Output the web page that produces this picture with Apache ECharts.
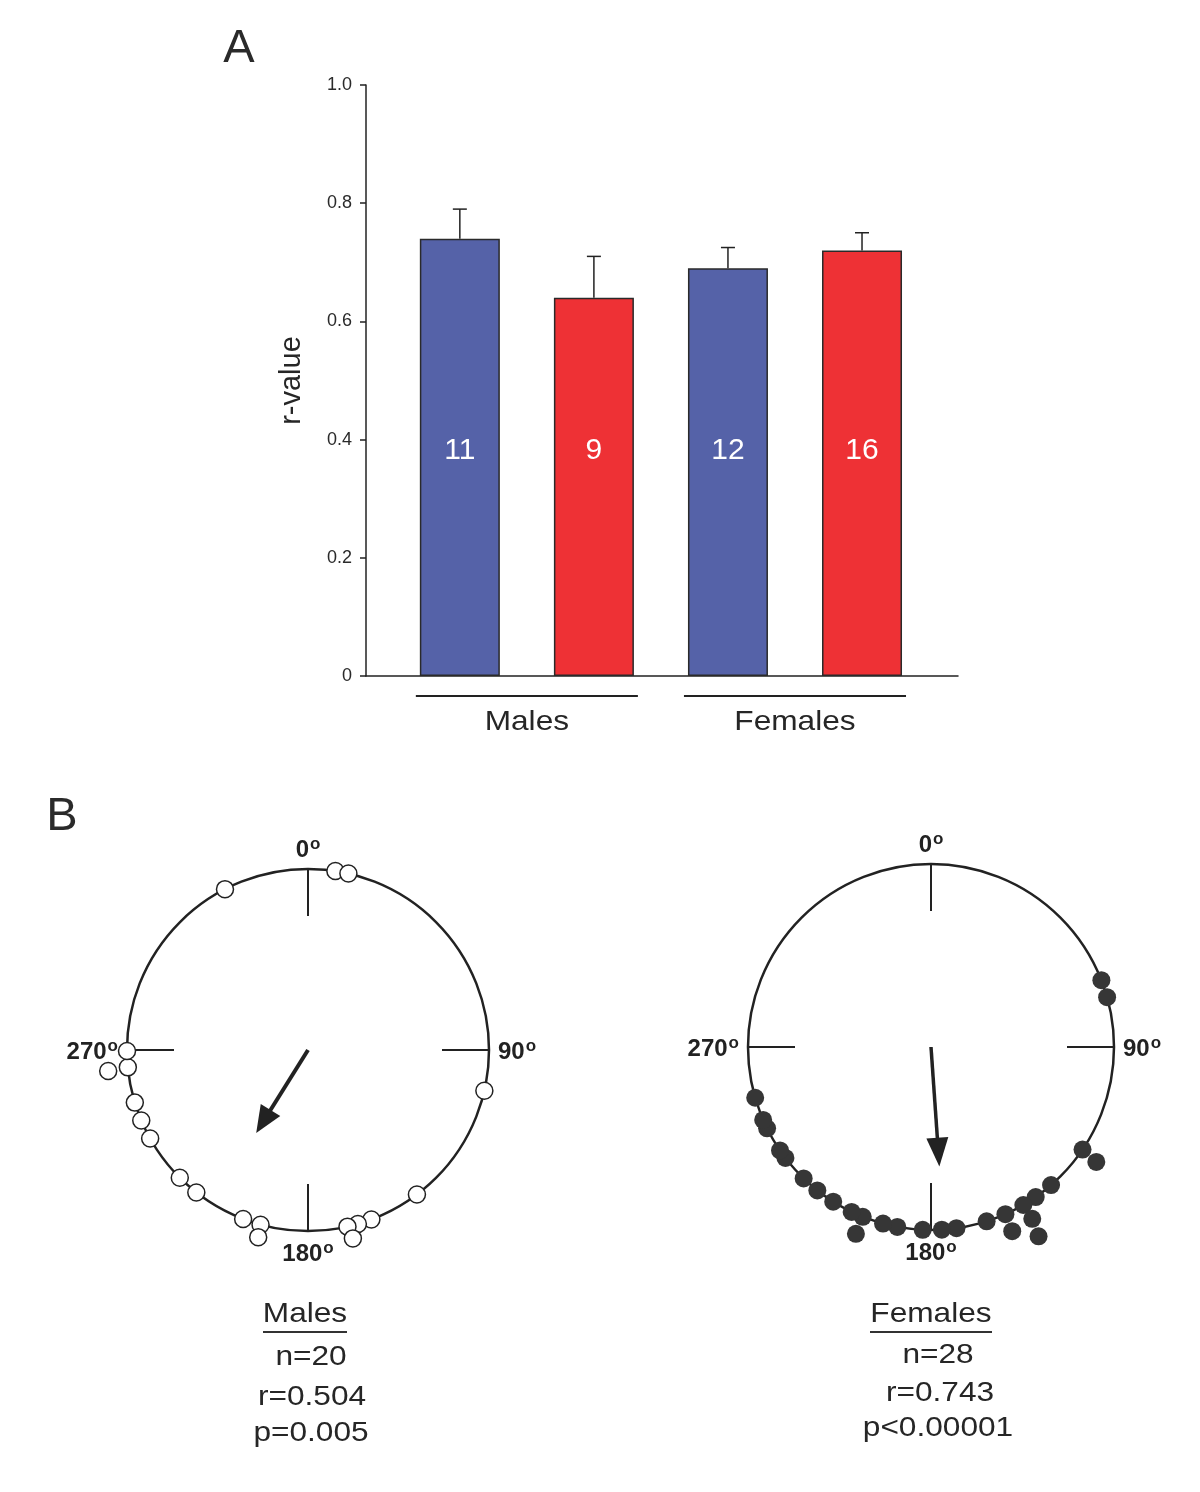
<!DOCTYPE html>
<html><head><meta charset="utf-8">
<script src="https://cdn.jsdelivr.net/npm/echarts@6/dist/echarts.min.js"></script>
<style>html,body{margin:0;padding:0;background:#fff}#c{width:1200px;height:1492px}</style>
</head><body><div id="c"></div>
<script>
// ---------- Panel A data ----------
const barGroups = ['Males', 'Females'];
const barGroupMembers = [[0, 1], [2, 3]];
const barValues = [0.74, 0.64, 0.69, 0.72];
const barErrorTops = [0.79, 0.71, 0.725, 0.75];
const barCounts = [11, 9, 12, 16];
const barColors = ['#5562A8', '#EE3135', '#5562A8', '#EE3135'];
const yTickValues = [0, 0.2, 0.4, 0.6, 0.8, 1.0];

// ---------- Panel B data (angle in degrees, radius 1 = on circle; >1 = stacked outward) ----------
const maleAngles = [8.7, 12.9, 103, 143, 159.5, 164, 167.4, 166.6, 195.2, 201, 194.9, 218.1, 225.1, 240.7, 247.1, 253.1, 264.5, 264, 269.7, 332.7];
const maleRadii  = [1, 1, 1, 1, 1, 1, 1, 1.07, 1, 1, 1.07, 1, 1, 1, 1, 1, 1, 1.11, 1, 1];
const femaleAngles = [68.6, 74.2, 124.1, 124.8, 139, 145.1, 149.7, 149.5, 150.4, 156, 156.2, 162.3, 172, 176.6, 182.6, 190.6, 195.2, 201.9, 205.7, 201.9, 212.3, 218.4, 224.1, 232.7, 235.6, 243.6, 246.5, 253.9];
const femaleRadii  = [1, 1, 1, 1.1, 1, 1, 1, 1.09, 1.19, 1, 1.1, 1, 1, 1, 1, 1, 1, 1, 1, 1.1, 1, 1, 1, 1, 1, 1, 1, 1];
const maleMeanVector = [0.54, 212];   // [length, angle]
const femaleMeanVector = [0.655, 176];
const degreeTicks = [0, 90, 180, 270];
const maleTitle = 'Males';
const femaleTitle = 'Females';
const maleStats = ['n=20', 'r=0.504', 'p=0.005'];
const femaleStats = ['n=28', 'r=0.743', 'p<0.00001'];

const FONT = '"Liberation Sans", Arial, Helvetica, sans-serif';
const INK = '#222';
const TXT = '#262626';

const chart = echarts.init(document.getElementById('c'), null, {renderer: 'canvas'});

function arrowRender(headLen, headW, lw) {
  return function (params, api) {
    const len = api.value(0), ang = api.value(1);
    const p0 = api.coord([0, ang]);
    const p1 = api.coord([len, ang]);
    const dx = p1[0] - p0[0], dy = p1[1] - p0[1];
    const L = Math.hypot(dx, dy);
    const ux = dx / L, uy = dy / L;
    const bx = p1[0] - ux * headLen, by = p1[1] - uy * headLen;
    const nx = -uy, ny = ux;
    return {
      type: 'group',
      children: [
        {type: 'line', shape: {x1: p0[0], y1: p0[1], x2: bx + ux * 3, y2: by + uy * 3}, style: {stroke: INK, lineWidth: lw}},
        {type: 'polygon', shape: {points: [[p1[0], p1[1]], [bx + nx * headW / 2, by + ny * headW / 2], [bx - nx * headW / 2, by - ny * headW / 2]]}, style: {fill: INK}}
      ]
    };
  };
}

function angleAxisFor(idx) {
  return {
    polarIndex: idx,
    type: 'value', min: 0, max: 360, interval: 90,
    startAngle: 90, clockwise: true,
    axisLine: {show: true, lineStyle: {color: INK, width: 2.5}},
    axisTick: {show: true, inside: true, length: 47, lineStyle: {color: INK, width: 2}},
    splitLine: {show: false}, splitArea: {show: false},
    axisLabel: {
      show: true, margin: 9,
      formatter: v => (degreeTicks.indexOf(v) >= 0 ? '{v|' + v + '}{d|o}' : ''),
      rich: {
        v: {fontSize: 24, lineHeight: 24, fontWeight: 'bold', fontFamily: FONT, color: INK, padding: [5, 0, 0, 0]},
        d: {fontSize: 17, lineHeight: 17, fontWeight: 'bold', fontFamily: FONT, color: INK, verticalAlign: 'top', padding: [0, 0, 0, 1]}
      }
    }
  };
}
function radiusAxisFor(idx) {
  return {polarIndex: idx, type: 'value', min: 0, max: 1, show: false,
    axisLine: {show: false}, axisTick: {show: false}, axisLabel: {show: false}, splitLine: {show: false}};
}

const option = {
  backgroundColor: '#fff',
  animation: false,
  grid: {left: 366, right: 242, top: 85, bottom: 816, containLabel: false},
  xAxis: {
    type: 'value', min: -0.7, max: 3.716,
    axisLine: {show: true, onZero: false, lineStyle: {color: INK, width: 1.5}},
    axisTick: {show: false}, axisLabel: {show: false}, splitLine: {show: false}
  },
  yAxis: {
    type: 'value', min: 0, max: 1, interval: 0.2,
    name: 'r-value', nameLocation: 'middle', nameGap: 60,
    nameTextStyle: {fontSize: 29, fontFamily: FONT, color: TXT},
    axisLine: {show: true, onZero: false, lineStyle: {color: INK, width: 1.5}},
    axisTick: {show: true, length: 6, lineStyle: {color: INK, width: 1.5}},
    axisLabel: {margin: 14, fontSize: 18, fontFamily: FONT, color: '#2a2a2a',
      formatter: v => (yTickValues.some(t => Math.abs(t - v) < 1e-9) ? (v === 0 ? '0' : v.toFixed(1)) : '')},
    splitLine: {show: false}
  },
  polar: [
    {center: [308, 1050], radius: 181},
    {center: [931, 1047], radius: 183}
  ],
  angleAxis: [angleAxisFor(0), angleAxisFor(1)],
  radiusAxis: [radiusAxisFor(0), radiusAxisFor(1)],
  series: [
    {
      type: 'bar', barWidth: 80,
      data: barValues.map((v, i) => ({value: [i, v], itemStyle: {color: barColors[i]}})),
      itemStyle: {borderColor: '#2a2a2a', borderWidth: 1.5},
      label: {show: true, position: 'insideBottom', distance: 210, color: '#fff', fontSize: 30, fontFamily: FONT,
        formatter: p => String(barCounts[p.dataIndex])}
    },
    {
      type: 'custom',
      data: barValues.map((v, i) => [i, v, barErrorTops[i]]),
      renderItem: function (params, api) {
        const x = api.value(0);
        const lo = api.coord([x, api.value(1)]);
        const hi = api.coord([x, api.value(2)]);
        const cap = 7;
        return {type: 'group', children: [
          {type: 'line', shape: {x1: lo[0], y1: lo[1], x2: hi[0], y2: hi[1]}, style: {stroke: INK, lineWidth: 1.5}},
          {type: 'line', shape: {x1: hi[0] - cap, y1: hi[1], x2: hi[0] + cap, y2: hi[1]}, style: {stroke: INK, lineWidth: 1.5}}
        ]};
      },
      z: 3
    },
    {
      type: 'scatter', coordinateSystem: 'polar', polarIndex: 0, clip: false,
      symbol: 'circle', symbolSize: 17,
      itemStyle: {color: '#fff', borderColor: INK, borderWidth: 1.5, opacity: 1},
      data: maleAngles.map((a, i) => [maleRadii[i], a]), z: 5
    },
    {
      type: 'scatter', coordinateSystem: 'polar', polarIndex: 1, clip: false,
      symbol: 'circle', symbolSize: 18,
      itemStyle: {color: '#363636', opacity: 1},
      data: femaleAngles.map((a, i) => [femaleRadii[i], a]), z: 5
    },
    {
      type: 'custom', coordinateSystem: 'polar', polarIndex: 0, clip: false,
      data: [maleMeanVector], renderItem: arrowRender(27, 23, 4), z: 6
    },
    {
      type: 'custom', coordinateSystem: 'polar', polarIndex: 1, clip: false,
      data: [femaleMeanVector], renderItem: arrowRender(29, 22, 3.5), z: 6
    }
  ]
};
chart.setOption(option);

// ---------- annotations ----------
function txt(x, y, text, size, opts) {
  opts = opts || {};
  return {type: 'text', x: x, y: y, scaleX: opts.scaleX || 1, z: 10,
    style: {text: text, x: 0, y: 0, fontSize: size, fontFamily: FONT, fill: opts.fill || TXT,
      fontWeight: opts.weight || 'normal', align: 'center', verticalAlign: 'middle'}};
}
const graphics = [];
graphics.push(txt(239, 49, 'A', 47, {fill: '#2a2a2a'}));
graphics.push(txt(62, 817, 'B', 47, {fill: '#2a2a2a'}));

// group lines under bars
const halfBar = 40;
const yAxisPx = chart.convertToPixel({gridIndex: 0}, [0, 0])[1];
barGroups.forEach((g, gi) => {
  const m = barGroupMembers[gi];
  const xa = chart.convertToPixel({gridIndex: 0}, [m[0], 0])[0] - halfBar - 4;
  const xb = chart.convertToPixel({gridIndex: 0}, [m[m.length - 1], 0])[0] + halfBar + 4;
  graphics.push({type: 'line', z: 10, shape: {x1: xa, y1: yAxisPx + 20, x2: xb, y2: yAxisPx + 20}, style: {stroke: INK, lineWidth: 2}});
  graphics.push(txt((xa + xb) / 2, yAxisPx + 46, g, 28, {scaleX: 1.13}));
});

// stats under circles
function statsBlock(cx, title, stats, dx, ys, ulHalf) {
  graphics.push(txt(cx, ys[0], title, 27.5, {scaleX: 1.15}));
  graphics.push({type: 'line', z: 10, shape: {x1: cx - ulHalf, y1: ys[0] + 18, x2: cx + ulHalf, y2: ys[0] + 18}, style: {stroke: '#333', lineWidth: 2}});
  stats.forEach((s, i) => graphics.push(txt(cx + dx[i], ys[i + 1], s, 27.5, {scaleX: 1.15})));
}
statsBlock(305, maleTitle, maleStats, [6, 7, 6], [1314, 1357, 1397, 1433], 42);
statsBlock(931, femaleTitle, femaleStats, [7, 9, 7], [1314, 1355, 1393, 1428], 61);

chart.setOption({graphic: graphics});
</script>
</body></html>
